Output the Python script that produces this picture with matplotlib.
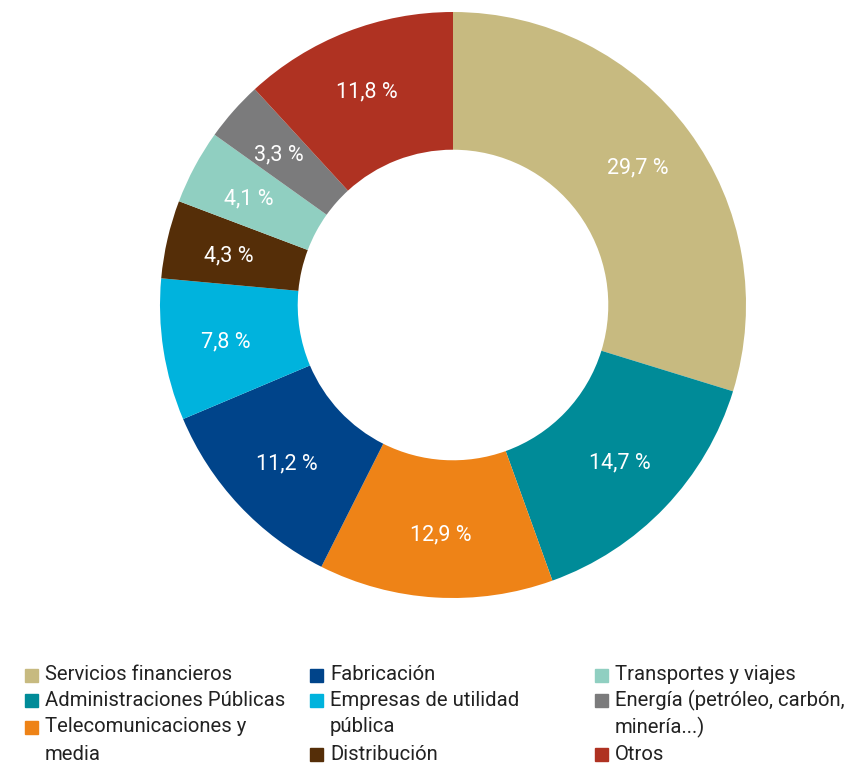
import numpy as np
import matplotlib.pyplot as plt
from matplotlib.patches import Rectangle

sectores = ["Servicios financieros", "Administraciones Públicas", "Telecomunicaciones y\nmedia",
            "Fabricación", "Empresas de utilidad\npública", "Distribución",
            "Transportes y viajes", "Energía (petróleo, carbón,\nminería...)", "Otros"]
valores = [29.7, 14.7, 12.9, 11.2, 7.8, 4.3, 4.1, 3.3, 11.8]
colores = ["#C7BA80", "#008B98", "#EE8317", "#00448A", "#00B3DD",
           "#552E08", "#90CFC1", "#7B7B7C", "#AF3222"]

W, H = 856, 765
fig = plt.figure(figsize=(W / 100, H / 100), dpi=100)
plt.rcParams['font.family'] = ['Roboto', 'DejaVu Sans']

# donut centrado en (453, 305) px, radio 293 px
cx, cy, r = 453, 305, 293
ax = fig.add_axes([(cx - r) / W, (H - cy - r) / H, 2 * r / W, 2 * r / H])
ax.pie(valores, colors=colores, startangle=90, counterclock=False,
       radius=1, wedgeprops=dict(width=0.47, linewidth=0))
ax.set_xlim(-1, 1)
ax.set_ylim(-1, 1)
ax.set_aspect("equal")
ax.axis("off")

# etiquetas de porcentaje en el centro de cada sector
ang = 90.0
for v in valores:
    mid = np.deg2rad(ang - v * 3.6 / 2)
    ang -= v * 3.6
    ax.text(0.785 * np.cos(mid), 0.785 * np.sin(mid), f"{v:.1f}".replace(".", ",") + " %",
            ha="center", va="center", color="white", fontsize=15.5)

# leyenda en tres columnas, con texto partido en varias líneas
filas = [675, 700, 727, 754]
cols = [(25, [0, 1, 2]), (310, [3, 4, 5]), (595, [6, 7, 8])]
for x0, idx in cols:
    linea = 0
    for i in idx:
        y = filas[linea]
        fig.patches.append(Rectangle((x0 / W, (H - y - 6.5) / H), 13 / W, 13 / H,
                                     transform=fig.transFigure, color=colores[i]))
        partes = sectores[i].split("\n")
        for k, p in enumerate(partes):
            fig.text((x0 + 20) / W, (H - filas[linea + k]) / H, p, ha="left", va="center",
                     fontsize=14.6, color="#222222")
        linea += len(partes)

fig.savefig("out.png", dpi=100)
